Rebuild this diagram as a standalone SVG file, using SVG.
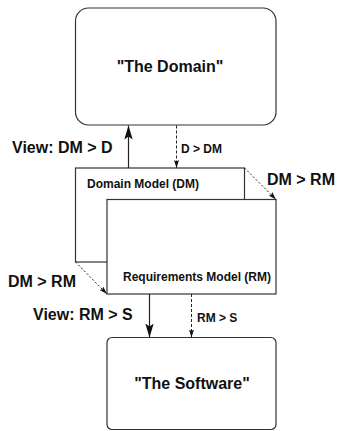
<svg xmlns="http://www.w3.org/2000/svg" width="337" height="431" viewBox="0 0 337 431">
<style>
.box{fill:#fff;stroke:#333;stroke-width:1.2}
.t{font-family:"Liberation Sans",Arial,Helvetica,sans-serif;font-weight:bold;fill:#111}
.big{font-size:16px}
.sm{font-size:12px}
.ln{stroke:#222;stroke-width:1.2;fill:none}
.dash{stroke:#222;stroke-width:1;fill:none;stroke-dasharray:3 2}
.dot{stroke:#222;stroke-width:1;fill:none;stroke-dasharray:2 2}
</style>
<defs>
<marker id="big" markerUnits="userSpaceOnUse" markerWidth="14" markerHeight="10" viewBox="0 0 14 10" refX="14" refY="5" orient="auto">
<path d="M0,0.8 L14,5 L0,9.2 L3,5 Z" fill="#111"/>
</marker>
<marker id="small" markerUnits="userSpaceOnUse" markerWidth="8" markerHeight="6" viewBox="0 0 8 6" refX="8" refY="3" orient="auto">
<path d="M0,0.5 L8,3 L0,5.5 L1.5,3 Z" fill="#111"/>
</marker>
</defs>
<g id="domain">
<rect class="box" x="75.5" y="8" width="200.5" height="117" rx="13" ry="13"/>
<text class="t big" x="170" y="72" text-anchor="middle">"The Domain"</text>
</g>
<g id="domain-model">
<rect class="box" x="75.5" y="168" width="169" height="94"/>
<text class="t sm" x="87" y="188">Domain Model (DM)</text>
</g>
<g id="requirements-model">
<rect class="box" x="107" y="199.5" width="169" height="94.5"/>
<text class="t sm" x="123" y="281">Requirements Model (RM)</text>
</g>
<g id="software">
<rect class="box" x="107" y="337.5" width="169" height="92" rx="5" ry="5"/>
<text class="t big" x="192" y="389" text-anchor="middle">"The Software"</text>
</g>
<g id="connectors">
<line class="ln" x1="128.5" y1="168" x2="128.5" y2="125.5" marker-end="url(#big)"/>
<line class="dash" x1="176.5" y1="125.5" x2="176.5" y2="168" marker-end="url(#small)"/>
<line class="dot" x1="244.5" y1="168" x2="276" y2="199.5" marker-end="url(#small)"/>
<line class="dot" x1="75.5" y1="262" x2="107" y2="294" marker-end="url(#small)"/>
<line class="ln" x1="149.5" y1="294" x2="149.5" y2="337.5" marker-end="url(#big)"/>
<line class="dash" x1="191.5" y1="294" x2="191.5" y2="337.5" marker-end="url(#small)"/>
<text class="t big" x="12" y="153">View: DM &gt; D</text>
<text class="t sm" x="181" y="153">D &gt; DM</text>
<text class="t big" x="267" y="185">DM &gt; RM</text>
<text class="t big" x="8" y="287">DM &gt; RM</text>
<text class="t big" x="33" y="320">View: RM &gt; S</text>
<text class="t sm" x="197" y="322">RM &gt; S</text>
</g>
</svg>
